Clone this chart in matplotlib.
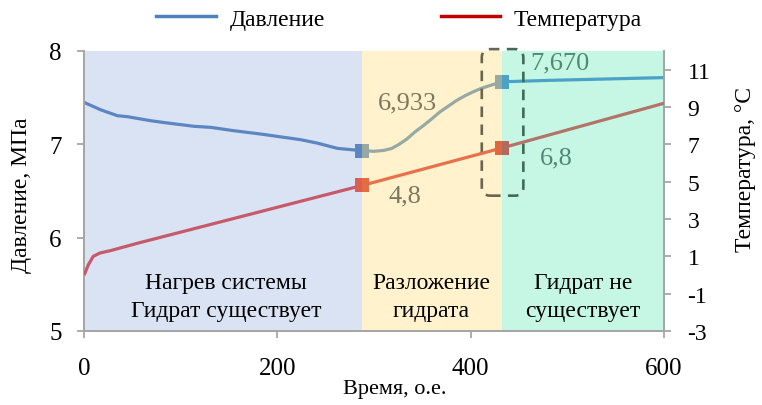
import numpy as np
import matplotlib
matplotlib.use("Agg")
import matplotlib.pyplot as plt
from matplotlib.lines import Line2D
from matplotlib.patches import FancyBboxPatch, Rectangle

# ---- data ----
p_time = [0, 17, 34.5, 45, 69, 86, 114, 131, 155, 183, 224, 241, 262, 276, 288,
          300, 310, 318, 326, 334, 342, 351, 360, 368, 377, 385, 394, 402, 411, 420, 426, 432,
          480, 520, 560, 600]
p_value = [7.45, 7.371, 7.307, 7.296, 7.253, 7.229, 7.193, 7.182, 7.146, 7.11, 7.05, 7.014, 6.957, 6.943, 6.933,
           6.925, 6.935, 6.955, 7.0, 7.057, 7.13, 7.20, 7.275, 7.346, 7.41, 7.467, 7.52, 7.56, 7.60, 7.63, 7.65, 7.670,
           7.685, 7.695, 7.705, 7.715]
t_time = [0, 1, 4.5, 9.6, 16.6, 27, 56, 288, 432, 600]
t_value = [0.0, 0.1, 0.55, 1.0, 1.18, 1.30, 1.71, 4.8, 6.8, 9.2]

regions = [0, 288, 432, 600]
region_labels = ["Нагрев системы\nГидрат существует", "Разложение\nгидрата", "Гидрат не\nсуществует"]
key_times = [288, 432]
key_p = [6.933, 7.670]
key_t = [4.8, 6.8]
p_labels = ["6,933", "7,670"]
t_labels = ["4,8", "6,8"]

x_ticks = [0, 200, 400, 600]
y_ticks = [5, 6, 7, 8]
t_ticks = [-3, -1, 1, 3, 5, 7, 9, 11]

# ---- style ----
bg_colors = ["#DAE3F3", "#FFF2CC", "#C6F6E4"]
p_colors = ["#5B86C2", "#98A9A4", "#4BA2C7"]
t_colors = ["#C65A6A", "#E8704A", "#B27468"]
txt_colors = ["#7C7860", "#7C7860", "#4E8878"]
font = "Liberation Serif"
plt.rcParams["font.family"] = [font, "DejaVu Serif"]
plt.rcParams["axes.unicode_minus"] = False

fig = plt.figure(figsize=(7.62, 4.06), dpi=100)
ax = fig.add_axes([84/762, 1-332/406, 580/762, 280/406])
ax2 = ax.twinx()

ax.set_xlim(0, 600)
ax.set_ylim(5, 8)
ax2.set_ylim(-3, 12)

for i in range(3):
    ax.axvspan(regions[i], regions[i+1], color=bg_colors[i], zorder=0, lw=0)

ax.set_zorder(1)
ax2.set_zorder(2)
ax.patch.set_visible(False)
ax2.patch.set_visible(False)

pt = np.array(p_time); pv = np.array(p_value)
tt = np.array(t_time); tv = np.array(t_value)
for i in range(3):
    a, b = regions[i], regions[i+1]
    m = (pt >= a) & (pt <= b)
    ax.plot(pt[m], pv[m], color=p_colors[i], lw=2.3, solid_capstyle="butt",
            solid_joinstyle="round", zorder=3)
    m = (tt >= a) & (tt <= b)
    ax2.plot(tt[m], tv[m], color=t_colors[i], lw=2.3, solid_capstyle="butt",
             solid_joinstyle="round", zorder=3)

# two-tone markers at region boundaries
t_mark_left = ["#D9604F", "#E0683F"]
t_mark_right = ["#E36C45", "#B06A60"]
for k, x in enumerate(key_times):
    ax.plot([x], [key_p[k]], marker="s", ms=9.5, mew=0, fillstyle="left",
            markerfacecolor=p_colors[k], markerfacecoloralt=p_colors[k+1], zorder=4)
    ax2.plot([x], [key_t[k]], marker="s", ms=9.5, mew=0, fillstyle="left",
             markerfacecolor=t_mark_left[k], markerfacecoloralt=t_mark_right[k], zorder=4)

# value labels
ax.text(335, 7.45, p_labels[0], fontsize=19, color=txt_colors[0], ha="center", va="center")
ax.text(492, 7.88, p_labels[1], fontsize=19, color=txt_colors[2], ha="center", va="center")
ax.text(332, 6.45, t_labels[0], fontsize=19, color=txt_colors[0], ha="center", va="center")
ax.text(489, 6.86, t_labels[1], fontsize=19, color=txt_colors[2], ha="center", va="center")

# region labels
ax.text(147, 5.37, region_labels[0], fontsize=17, ha="center", va="center", linespacing=1.4)
ax.text(359, 5.37, region_labels[1], fontsize=17, ha="center", va="center", linespacing=1.4)
ax.text(516, 5.37, region_labels[2], fontsize=17, ha="center", va="center", linespacing=1.4)

# dashed rounded box
bx0, bx1, by0, by1 = 411.5, 454.5, 6.45, 8.02
for clip_x0, clip_x1, col in [(380, 432, "#6A6550"), (432, 480, "#3E6B5B")]:
    box = FancyBboxPatch((bx0, by0), bx1-bx0, by1-by0,
                         boxstyle="round,pad=0,rounding_size=8.5", mutation_aspect=0.0107,
                         fill=False, ec=col, lw=1.9, ls=(0, (4, 2.8)), clip_on=True, zorder=5)
    ax.add_patch(box)
    cr = Rectangle((clip_x0, 6.0), clip_x1-clip_x0, 2.5, transform=ax.transData)
    box.set_clip_path(cr)

# axes styling
spine_col = "#A6A6A6"
ax.spines["top"].set_visible(False)
ax2.spines["top"].set_visible(False)
for a_ in (ax, ax2):
    for s in ["left", "right", "bottom"]:
        a_.spines[s].set_color(spine_col)
        a_.spines[s].set_linewidth(1.3)
ax.set_xticks(x_ticks)
ax.set_yticks(y_ticks)
ax2.set_yticks(t_ticks)
ax.tick_params(axis="both", colors=spine_col, labelcolor="black", labelsize=18, length=5, width=1.3)
ax.tick_params(axis="y", pad=11)
ax.tick_params(axis="x", pad=13.5)
ax2.tick_params(axis="y", colors=spine_col, labelcolor="black", labelsize=17, length=5, width=1.3, pad=12)

ax.set_ylabel("Давление, МПа", fontsize=17)
ax.yaxis.set_label_coords((32-84)/580, (332-195)/280)
ax2.set_ylabel("Температура, °C", fontsize=17, rotation=90)
ax2.yaxis.set_label_coords((735-84)/580, (332-170)/280)
fig.text(395/762, 1-390/406, "Время, о.е.", fontsize=16, ha="center", va="center")

handles = [Line2D([], [], color="#4F81BD", lw=2.5), Line2D([], [], color="#C00000", lw=2.5)]
fig.legend(handles, ["Давление", "Температура"], loc="center", bbox_to_anchor=(0.524, 0.951),
           ncol=2, frameon=False, fontsize=17, handlelength=2.5, columnspacing=4.9, handletextpad=0.6)

fig.savefig("out.png", dpi=100)
